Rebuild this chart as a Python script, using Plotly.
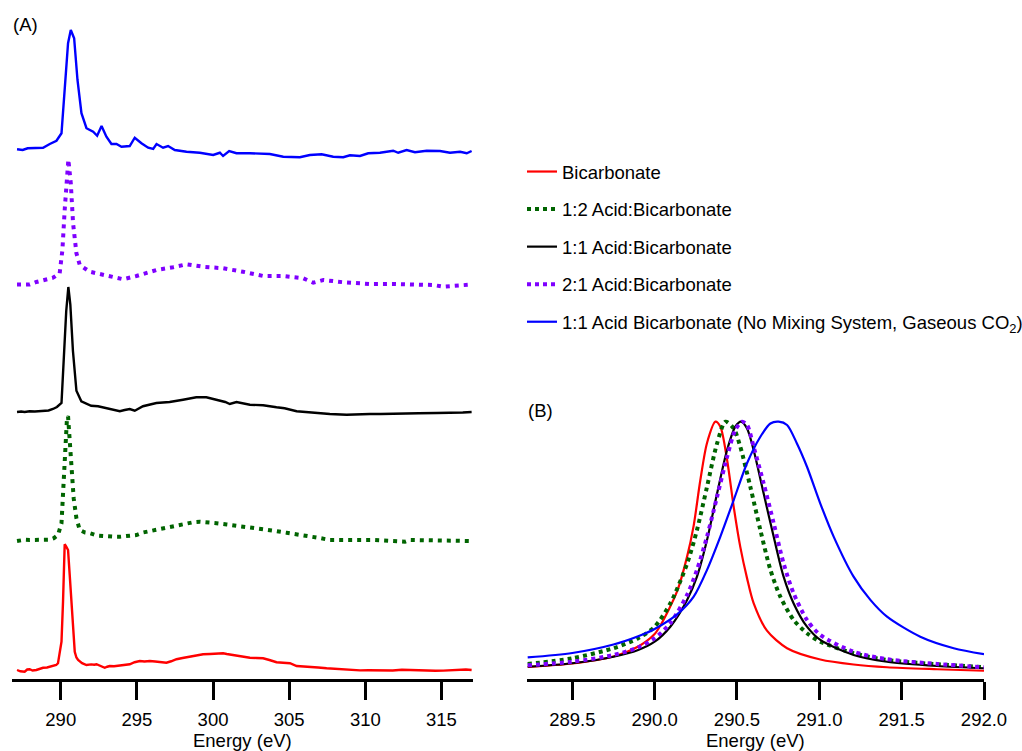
import plotly.graph_objects as go

# ---------------- Panel A: full C K-edge spectra (normalized, stacked) ----------------
red_x = [287.13, 287.35, 287.63, 287.80, 287.96, 288.15, 288.40, 288.62, 288.84, 289.10, 289.30, 289.49,
         289.70, 289.82, 290.05, 290.15, 290.26, 290.37, 290.48, 290.59, 290.70, 290.81, 290.92, 291.03,
         291.14, 291.40, 291.69, 292.00, 292.20, 292.35, 292.60, 292.89, 293.05, 293.22, 293.50, 293.88,
         294.20, 294.53, 294.85, 295.19, 295.50, 295.85, 296.20, 296.60, 296.94, 297.25, 297.60, 298.00,
         298.48, 298.90, 299.35, 299.80, 300.20, 300.66, 300.90, 301.20, 301.54, 302.00, 302.42, 302.85,
         303.29, 303.70, 304.17, 304.60, 305.05, 305.49, 305.90, 306.36, 306.90, 307.46, 308.00, 308.55,
         309.10, 309.65, 310.20, 310.74, 311.30, 311.80, 312.40, 312.93, 313.50, 314.03, 314.60, 315.12,
         315.70, 316.22, 316.60, 316.98]
red_y = [0.000, -0.010, -0.014, 0.004, 0.006, -0.004, 0.000, 0.012, 0.018, 0.020, 0.026, 0.030,
         0.040, 0.054, 0.226, 0.546, 1.006, 0.985, 0.960, 0.760, 0.546, 0.300, 0.146, 0.100,
         0.080, 0.055, 0.040, 0.045, 0.042, 0.046, 0.030, 0.018, 0.026, 0.032, 0.030, 0.034,
         0.040, 0.046, 0.062, 0.072, 0.068, 0.072, 0.068, 0.060, 0.058, 0.070, 0.086, 0.096,
         0.106, 0.118, 0.126, 0.128, 0.130, 0.134, 0.128, 0.122, 0.114, 0.108, 0.098, 0.096,
         0.094, 0.080, 0.062, 0.058, 0.054, 0.032, 0.030, 0.027, 0.020, 0.014, 0.010, 0.003,
         0.002, -0.003, -0.002, -0.003, 0.000, -0.004, 0.002, 0.000, -0.004, -0.008, -0.006, -0.005,
         0.000, 0.003, 0.004, 0.000]

green_x = [287.13, 287.40, 287.63, 287.96, 288.30, 288.62, 289.00, 289.28, 289.55, 289.82, 290.05, 290.15,
           290.26, 290.41, 290.48, 290.55, 290.70, 290.85, 291.03, 291.25, 291.60, 291.91, 292.40, 293.00,
           293.50, 293.88, 294.40, 294.97, 295.40, 295.85, 296.40, 296.94, 297.60, 298.26, 298.70, 299.13,
           299.70, 300.23, 300.90, 301.54, 302.30, 303.07, 303.90, 304.83, 305.60, 306.36, 307.00, 307.67,
           308.30, 308.99, 309.80, 310.52, 311.20, 311.83, 312.60, 312.93, 313.50, 314.03, 314.60, 315.40,
           316.22, 316.98]
green_y = [-0.008, 0.000, 0.002, 0.000, 0.000, 0.000, 0.002, 0.003, 0.015, 0.040, 0.134, 0.386,
           0.680, 0.974, 0.990, 0.866, 0.600, 0.334, 0.174, 0.080, 0.060, 0.054, 0.035, 0.026,
           0.026, 0.026, 0.034, 0.040, 0.060, 0.072, 0.085, 0.098, 0.118, 0.134, 0.142, 0.146,
           0.142, 0.134, 0.124, 0.114, 0.104, 0.094, 0.076, 0.058, 0.044, 0.032, 0.016, 0.000,
           0.002, 0.003, 0.000, 0.000, -0.004, -0.014, -0.014, 0.000, 0.000, 0.000, -0.002, -0.004,
           -0.004, -0.008]

black_x = [287.13, 287.40, 287.63, 287.96, 288.30, 288.84, 289.20, 289.49, 289.75, 290.05, 290.20, 290.36,
           290.50, 290.63, 290.80, 291.03, 291.35, 292.00, 292.45, 293.00, 293.50, 293.88, 294.20, 294.53,
           294.86, 295.40, 296.28, 297.15, 298.03, 298.90, 299.56, 300.23, 300.80, 301.10, 301.54, 302.42,
           303.29, 304.17, 304.70, 305.49, 306.80, 307.67, 308.77, 309.50, 310.30, 311.00, 311.60, 312.00,
           312.93, 313.50, 314.69, 315.20, 315.78, 316.40, 316.98]
black_y = [0.000, 0.004, 0.000, 0.006, 0.004, 0.006, 0.012, 0.024, 0.040, 0.072, 0.405, 0.806,
           1.000, 0.860, 0.490, 0.170, 0.086, 0.050, 0.046, 0.032, 0.015, 0.006, 0.016, 0.024,
           0.010, 0.046, 0.072, 0.080, 0.098, 0.118, 0.118, 0.098, 0.080, 0.064, 0.080, 0.058,
           0.054, 0.038, 0.030, 0.006, -0.008, -0.016, -0.022, -0.018, -0.016, -0.016, -0.016, -0.012,
           -0.014, -0.010, -0.008, -0.008, -0.008, -0.004, 0.000]

purple_x = [287.13, 287.50, 287.96, 288.40, 288.84, 289.49, 289.93, 290.11, 290.26, 290.41, 290.50, 290.66,
            290.81, 291.03, 291.25, 291.91, 293.00, 294.09, 294.97, 296.28, 297.38, 298.26, 299.35, 300.66,
            301.97, 303.29, 304.60, 305.92, 306.58, 307.24, 308.55, 310.30, 311.83, 313.15, 314.46, 315.12,
            316.00, 316.98]
purple_y = [0.000, 0.000, 0.000, 0.020, 0.036, 0.054, 0.090, 0.276, 0.596, 0.916, 1.000, 0.810,
            0.490, 0.250, 0.156, 0.102, 0.068, 0.042, 0.068, 0.116, 0.138, 0.162, 0.142, 0.130,
            0.102, 0.068, 0.068, 0.050, 0.014, 0.036, 0.018, 0.004, 0.004, 0.004, -0.004, -0.018,
            -0.010, 0.000]

blue_x = [287.13, 287.50, 287.83, 288.40, 288.84, 289.28, 289.72, 290.05, 290.26, 290.48, 290.66, 290.88,
          291.10, 291.36, 291.69, 292.13, 292.39, 292.68, 293.00, 293.33, 293.66, 293.99, 294.53, 294.86,
          295.30, 295.74, 296.07, 296.29, 296.72, 297.05, 297.49, 298.26, 299.13, 300.01, 300.45, 300.66,
          301.06, 301.54, 302.42, 303.73, 304.61, 305.70, 306.36, 307.13, 307.89, 308.55, 308.99, 309.65,
          310.19, 310.96, 311.83, 312.16, 312.71, 313.26, 314.03, 314.90, 315.56, 316.22, 316.66, 316.98]
blue_y = [0.006, 0.000, 0.014, 0.018, 0.018, 0.048, 0.074, 0.134, 0.506, 0.854, 0.960, 0.894,
          0.560, 0.294, 0.174, 0.146, 0.114, 0.192, 0.106, 0.048, 0.048, 0.026, 0.032, 0.098,
          0.054, 0.018, 0.008, 0.048, 0.018, 0.032, 0.000, -0.014, -0.022, -0.040, -0.022, -0.048,
          -0.008, -0.026, -0.026, -0.032, -0.054, -0.058, -0.040, -0.034, -0.054, -0.058, -0.042, -0.048,
          -0.026, -0.022, -0.006, -0.022, 0.000, -0.018, -0.006, -0.008, -0.022, -0.014, -0.026, -0.008]

# vertical stacking offsets for panel A
stack_offsets = [0.0, 1.04, 2.064, 3.084, 4.16]

# ---------------- Panel B: main peak region (normalized) ----------------
b_red_x = [289.229, 289.50, 289.75, 289.90, 290.00, 290.035, 290.136, 290.197, 290.237, 290.277, 290.318,
           290.369, 290.399, 290.44, 290.48, 290.52, 290.561, 290.601, 290.682, 290.804, 291.006, 291.208,
           291.411, 291.715, 292.0]
b_red_y = [0.020, 0.034, 0.062, 0.102, 0.152, 0.186, 0.322, 0.461, 0.585, 0.765, 0.915,
           1.000, 0.980, 0.847, 0.660, 0.500, 0.375, 0.275, 0.165, 0.095, 0.050, 0.030,
           0.019, 0.011, 0.005]

b_green_x = [289.229, 289.50, 289.75, 289.90, 290.00, 290.095, 290.197, 290.257, 290.318, 290.379, 290.43,
             290.48, 290.52, 290.581, 290.642, 290.703, 290.763, 290.844, 290.925, 291.006, 291.208, 291.411,
             291.715, 292.0]
b_green_y = [0.032, 0.055, 0.095, 0.135, 0.181, 0.274, 0.433, 0.567, 0.740, 0.913, 1.000,
             0.973, 0.900, 0.740, 0.567, 0.408, 0.301, 0.208, 0.155, 0.121, 0.075, 0.048,
             0.031, 0.019]

b_black_x = [289.229, 289.50, 289.75, 289.90, 290.00, 290.095, 290.197, 290.257, 290.318, 290.379, 290.44,
             290.49, 290.524, 290.561, 290.601, 290.662, 290.723, 290.783, 290.844, 290.925, 291.006, 291.208,
             291.411, 291.715, 292.0]
b_black_y = [0.021, 0.035, 0.061, 0.088, 0.121, 0.181, 0.288, 0.381, 0.527, 0.713, 0.887,
             0.980, 1.000, 0.973, 0.887, 0.713, 0.540, 0.381, 0.274, 0.181, 0.128, 0.068,
             0.041, 0.024, 0.015]

b_purple_x = [289.229, 289.50, 289.75, 289.90, 290.00, 290.095, 290.197, 290.257, 290.318, 290.379, 290.44,
              290.49, 290.531, 290.561, 290.601, 290.662, 290.723, 290.783, 290.844, 290.925, 291.006, 291.208,
              291.411, 291.715, 292.0]
b_purple_y = [0.027, 0.041, 0.068, 0.098, 0.135, 0.195, 0.308, 0.408, 0.541, 0.700, 0.860,
              0.967, 1.000, 0.987, 0.900, 0.753, 0.594, 0.434, 0.314, 0.208, 0.148, 0.081,
              0.051, 0.032, 0.019]

b_blue_x = [289.229, 289.50, 289.75, 289.90, 290.00, 290.136, 290.237, 290.318, 290.399, 290.48, 290.561,
            290.642, 290.703, 290.753, 290.804, 290.864, 290.925, 291.006, 291.087, 291.208, 291.31, 291.411,
            291.613, 291.816, 292.0]
b_blue_y = [0.058, 0.076, 0.110, 0.143, 0.172, 0.230, 0.301, 0.408, 0.541, 0.687, 0.834,
            0.940, 0.993, 1.000, 0.987, 0.913, 0.820, 0.673, 0.541, 0.381, 0.288, 0.221,
            0.141, 0.095, 0.071]

names = ["Bicarbonate", "1:2 Acid:Bicarbonate", "1:1 Acid:Bicarbonate", "2:1 Acid:Bicarbonate",
         "1:1 Acid Bicarbonate (No Mixing System, Gaseous CO<sub>2</sub>)"]
colors = ["#ff0000", "#006400", "#000000", "#7f00ff", "#0000ff"]
dotted = [False, True, False, True, False]

a_x = [red_x, green_x, black_x, purple_x, blue_x]
a_y = [red_y, green_y, black_y, purple_y, blue_y]
b_x = [b_red_x, b_green_x, b_black_x, b_purple_x, b_blue_x]
b_y = [b_red_y, b_green_y, b_black_y, b_purple_y, b_blue_y]

W, H = 1022, 751
FONT = "Liberation Sans, Arial, Helvetica, sans-serif"
FS = 18.5

fig = go.Figure()

for i in range(5):
    dash = "4px,5px" if dotted[i] else "solid"
    width_a = 4 if dotted[i] else 2.4
    fig.add_trace(go.Scatter(
        x=a_x[i], y=[v + stack_offsets[i] for v in a_y[i]],
        mode="lines", line=dict(color=colors[i], width=width_a, dash=dash),
        xaxis="x", yaxis="y", showlegend=False, hoverinfo="skip"))

for i in range(5):
    dash = "4px,4px" if dotted[i] else "solid"
    width_b = 4 if dotted[i] else 2.2
    fig.add_trace(go.Scatter(
        x=b_x[i], y=b_y[i], name=names[i], legendgroup=f"g{i}",
        mode="lines", line=dict(color=colors[i], width=width_b, dash=dash, shape="spline", smoothing=0.8),
        xaxis="x2", yaxis="y2", showlegend=True, hoverinfo="skip"))

def px_x(p):
    return p / W

def px_y(p):
    return 1 - p / H

axis_common = dict(
    showline=True, linewidth=3, linecolor="black", mirror=False,
    ticks="outside", ticklen=18, tickwidth=2.5, tickcolor="black",
    showgrid=False, zeroline=False,
    tickfont=dict(family=FONT, size=FS, color="black"),
    title=dict(text="Energy (eV)", font=dict(family=FONT, size=FS, color="black"), standoff=3),
    ticklabelstandoff=4,
)

fig.update_layout(
    width=W, height=H,
    margin=dict(l=0, r=0, t=0, b=0, autoexpand=False),
    paper_bgcolor="white", plot_bgcolor="white",
    font=dict(family=FONT, size=FS, color="black"),
    xaxis=dict(domain=[px_x(12), px_x(472.7)], range=[286.8, 317.05],
               tickvals=[290, 295, 300, 305, 310, 315], anchor="y", **axis_common),
    yaxis=dict(domain=[px_y(679), px_y(20)], range=[-0.072, 5.2], visible=False, anchor="x"),
    xaxis2=dict(domain=[px_x(526.7), px_x(984)], range=[289.223, 292.0],
                tickvals=[289.5, 290.0, 290.5, 291.0, 291.5, 292.0],
                ticktext=["289.5", "290.0", "290.5", "291.0", "291.5", "292.0"],
                anchor="y2", **axis_common),
    yaxis2=dict(domain=[px_y(679), px_y(400)], range=[-0.028, 1.0867], visible=False, anchor="x2"),
    legend=dict(x=px_x(522), y=px_y(153), xanchor="left", yanchor="top",
                traceorder="grouped", tracegroupgap=10.5, itemwidth=30,
                font=dict(family=FONT, size=FS, color="black"), bgcolor="rgba(0,0,0,0)"),
    annotations=[
        dict(text="(A)", x=px_x(11), y=px_y(25), xref="paper", yref="paper",
             xanchor="left", yanchor="middle", showarrow=False,
             font=dict(family=FONT, size=FS, color="black")),
        dict(text="(B)", x=px_x(526), y=px_y(410), xref="paper", yref="paper",
             xanchor="left", yanchor="middle", showarrow=False,
             font=dict(family=FONT, size=FS, color="black")),
    ],
)

fig.write_html("out.html")
